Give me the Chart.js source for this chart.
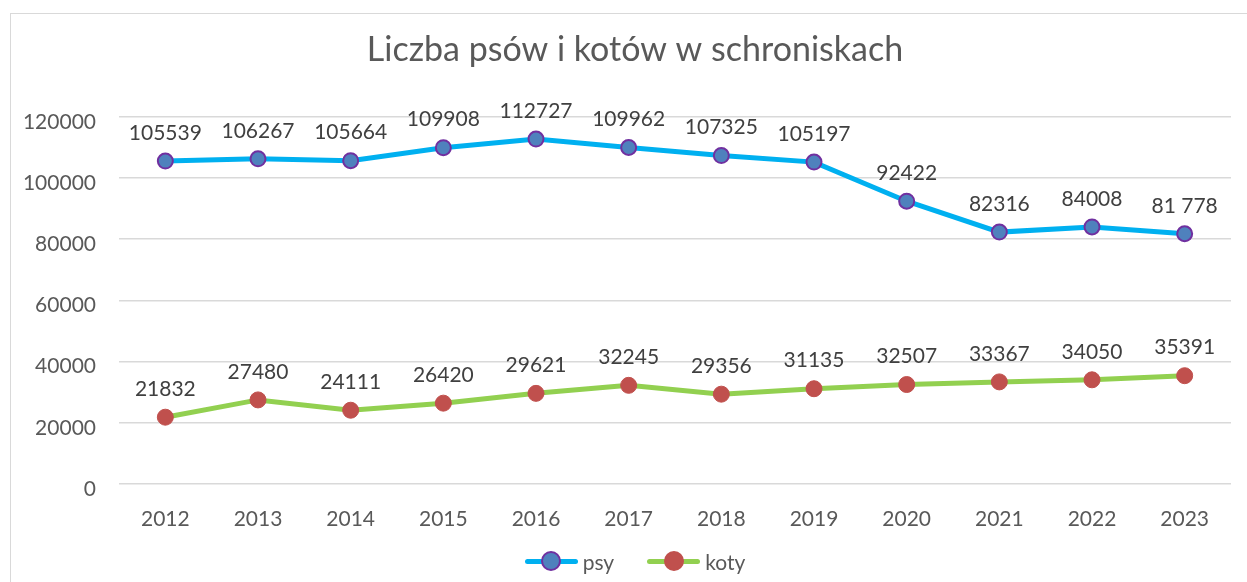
<!DOCTYPE html>
<html>
<head>
<meta charset="utf-8">
<script src="https://cdn.jsdelivr.net/npm/chart.js@4.4.1/dist/chart.umd.min.js"></script>
<style>
  html, body { margin:0; padding:0; background:#fff; overflow:hidden; }
  body { width:1247px; height:582px; position:relative; font-family:Lato, sans-serif; }
  #frame { position:absolute; left:10px; top:13px; width:1260px; height:600px;
           border:1px solid #d9d9d9; box-sizing:border-box; }
  #c { position:absolute; left:0; top:0; }
  #legend { position:absolute; left:0; width:1270px; top:549px; height:24px;
            display:flex; justify-content:center; align-items:center; gap:33px;
            font-size:21px; color:#595959; }
  .lg-item { display:flex; align-items:center; gap:5px; }
  .lg-mark { position:relative; width:53px; height:20px; }
  .lg-line { position:absolute; left:0; right:0; top:7.5px; height:5px; border-radius:3px; }
  .lg-dot  { position:absolute; left:16.5px; top:0; width:20px; height:20px;
             border-radius:50%; box-sizing:border-box; }
</style>
</head>
<body>
<div id="frame"></div>
<canvas id="c" width="1270" height="600"></canvas>
<div id="legend"></div>

<script>
/* ── Data ─────────────────────────────────────────────────── */
const YEARS      = ["2012","2013","2014","2015","2016","2017","2018","2019","2020","2021","2022","2023"];
const PSY        = [105539,106267,105664,109908,112727,109962,107325,105197,92422,82316,84008,81778];
const PSY_LABELS = ["105539","106267","105664","109908","112727","109962","107325","105197","92422","82316","84008","81 778"];
const KOTY       = [21832,27480,24111,26420,29621,32245,29356,31135,32507,33367,34050,35391];
const KOTY_LABELS= ["21832","27480","24111","26420","29621","32245","29356","31135","32507","33367","34050","35391"];
const Y_TICKS    = [0,20000,40000,60000,80000,100000,120000];

const TXT = "#595959";

/* ── Data labels above each point ─────────────────────────── */
const pointLabels = {
  id: "pointLabels",
  afterLayout(chart) {
    // title centred on the whole frame, not just the plot
    if (chart.titleBlock) chart.titleBlock.right = chart.width;
  },
  afterDatasetsDraw(chart) {
    const ctx = chart.ctx;
    ctx.save();
    ctx.font = "21px Lato";
    ctx.fillStyle = "#404040";
    ctx.textAlign = "center";
    ctx.textBaseline = "middle";
    chart.data.datasets.forEach((ds, i) => {
      chart.getDatasetMeta(i).data.forEach((pt, j) => {
        ctx.fillText(ds.pointLabels[j], pt.x, pt.y - 28);
      });
    });
    ctx.restore();
  }
};

new Chart(document.getElementById("c"), {
  type: "line",
  data: {
    labels: YEARS,
    datasets: [
      { label:"psy", data:PSY, pointLabels:PSY_LABELS,
        borderColor:"#00b0f0", borderWidth:5, tension:0,
        pointRadius:7.5, pointBackgroundColor:"#4f81bd",
        pointBorderColor:"#7030a0", pointBorderWidth:2 },
      { label:"koty", data:KOTY, pointLabels:KOTY_LABELS,
        borderColor:"#92d050", borderWidth:5, tension:0,
        pointRadius:8, pointBackgroundColor:"#c0504d",
        pointBorderColor:"#c0504d", pointBorderWidth:1 },
    ],
  },
  options: {
    responsive: false,
    animation: false,
    layout: { padding: { left:0, right:39, top:0, bottom:0 } },
    plugins: {
      legend: { display:false },
      tooltip: { enabled:false },
      title: {
        display: true,
        text: "Liczba psów i kotów w schroniskach",
        color: TXT,
        font: { family:"Lato", size:34, weight:"normal", lineHeight:1.2 },
        padding: { top:30, bottom:46 },
      },
    },
    scales: {
      x: {
        offset: true,
        grid: { display:false },
        border: { display:false },
        ticks: { color:TXT, font:{ family:"Lato", size:21 }, padding:15, maxRotation:0 },
        afterFit(s) { s.height = 116; },
      },
      y: {
        min: 0, max: 120000,
        grid: { color:"#d9d9d9", lineWidth:1.5, drawTicks:false },
        border: { display:false },
        afterBuildTicks(s) { s.ticks = Y_TICKS.map(v => ({ value:v })); },
        ticks: { color:TXT, font:{ family:"Lato", size:21 }, padding:23, labelOffset:5,
                 callback: v => String(v) },
        afterFit(s) { s.width = 119; },
      },
    },
  },
  plugins: [pointLabels],
});

/* ── Legend (line + marker) ───────────────────────────────── */
const LEGEND = [
  { text:"psy",  line:"#00b0f0", fill:"#4f81bd", edge:"#7030a0" },
  { text:"koty", line:"#92d050", fill:"#c0504d", edge:"#c0504d" },
];
document.getElementById("legend").innerHTML = LEGEND.map(l =>
  `<div class="lg-item">
     <div class="lg-mark">
       <div class="lg-line" style="background:${l.line}"></div>
       <div class="lg-dot" style="background:${l.fill};border:2px solid ${l.edge}"></div>
     </div>
     <span>${l.text}</span>
   </div>`).join("");
</script>
</body>
</html>
